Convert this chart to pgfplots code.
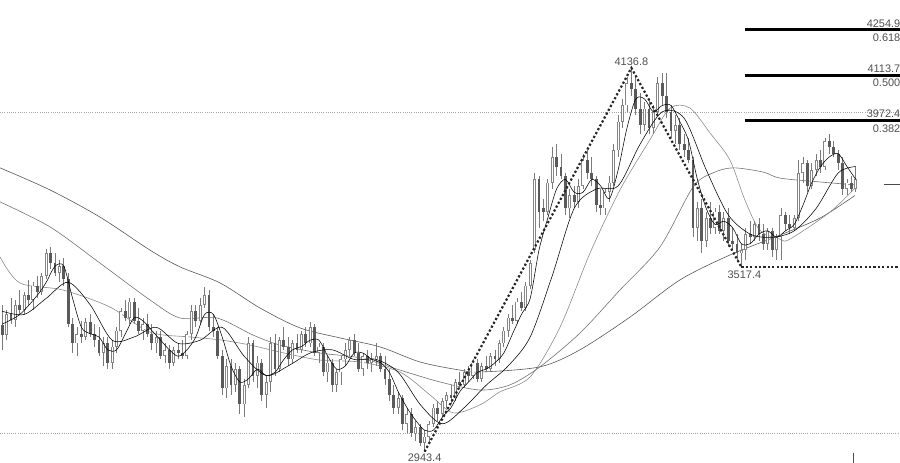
\documentclass[border=0pt]{standalone}
\usepackage{fontspec}
\setmainfont{Liberation Sans}
\usepackage{pgfplots}
\usepackage{pgfplotstable}
\pgfplotsset{compat=1.18}

\definecolor{wick}{HTML}{7A7A7A}
\definecolor{downc}{HTML}{5A5A5A}
\definecolor{upc}{HTML}{858585}
\definecolor{lbl}{HTML}{505050}

% daily candles: index, open, high, low, close
\pgfplotstableread{
i o h l c
0 3337 3400 3260 3306
1 3306 3384 3290 3370
2 3370 3420 3340 3353
3 3353 3415 3330 3400
4 3400 3446 3368 3384
5 3384 3440 3370 3430
6 3430 3477 3400 3415
7 3415 3470 3384 3460
8 3460 3490 3420 3440
9 3440 3500 3430 3490
10 3490 3575 3480 3560
11 3560 3580 3510 3530
12 3530 3560 3490 3500
13 3500 3540 3470 3520
14 3520 3545 3460 3480
15 3480 3500 3330 3340
16 3340 3360 3250 3280
17 3280 3330 3240 3310
18 3310 3350 3280 3300
19 3300 3360 3290 3345
20 3345 3370 3300 3310
21 3310 3340 3270 3290
22 3290 3330 3240 3250
23 3250 3300 3210 3280
24 3280 3300 3200 3220
25 3220 3290 3200 3270
26 3270 3330 3250 3320
27 3320 3390 3300 3380
28 3380 3415 3350 3360
29 3360 3420 3340 3410
30 3410 3420 3340 3350
31 3350 3390 3310 3320
32 3320 3360 3290 3340
33 3340 3370 3300 3310
34 3310 3340 3260 3280
35 3280 3320 3250 3300
36 3300 3320 3230 3240
37 3240 3280 3220 3260
38 3260 3275 3200 3220
39 3220 3270 3210 3260
40 3260 3280 3230 3250
41 3250 3290 3230 3240
42 3240 3320 3230 3310
43 3310 3400 3290 3380
44 3380 3400 3330 3350
45 3350 3420 3340 3400
46 3400 3455 3390 3430
47 3430 3445 3320 3330
48 3330 3370 3300 3320
49 3320 3330 3230 3240
50 3240 3260 3120 3140
51 3140 3230 3110 3210
52 3210 3230 3120 3150
53 3150 3220 3130 3200
54 3200 3210 3060 3090
55 3090 3170 3050 3150
56 3150 3300 3140 3280
57 3280 3290 3160 3180
58 3180 3240 3140 3220
59 3220 3230 3100 3120
60 3120 3180 3080 3160
61 3160 3300 3130 3280
62 3280 3310 3180 3200
63 3200 3300 3190 3290
64 3290 3330 3260 3270
65 3270 3300 3210 3230
66 3230 3290 3220 3280
67 3280 3310 3250 3260
68 3260 3320 3250 3310
69 3310 3330 3270 3280
70 3280 3345 3270 3330
71 3330 3340 3240 3250
72 3250 3280 3220 3270
73 3270 3280 3180 3190
74 3190 3240 3160 3220
75 3220 3230 3130 3150
76 3150 3200 3130 3190
77 3190 3240 3150 3230
78 3230 3280 3210 3260
79 3260 3300 3240 3290
80 3290 3310 3240 3250
81 3250 3280 3190 3200
82 3200 3250 3180 3240
83 3240 3260 3200 3220
84 3220 3250 3190 3230
85 3230 3280 3210 3240
86 3240 3250 3190 3200
87 3200 3240 3150 3170
88 3170 3200 3100 3120
89 3120 3150 3060 3080
90 3080 3130 3060 3110
91 3110 3120 3010 3030
92 3030 3080 3000 3060
93 3060 3080 2990 3000
94 3000 3040 2975 3020
95 3020 3030 2960 2970
96 2970 3010 2943.4 2990
97 2990 3040 2970 3030
98 3030 3090 3020 3080
99 3080 3100 3040 3060
100 3060 3110 3050 3100
101 3100 3130 3080 3120
102 3120 3150 3090 3110
103 3110 3170 3100 3160
104 3160 3190 3140 3150
105 3150 3200 3140 3190
106 3190 3210 3160 3180
107 3180 3230 3170 3220
108 3220 3230 3160 3170
109 3170 3220 3160 3210
110 3210 3240 3190 3200
111 3200 3250 3190 3240
112 3240 3260 3210 3230
113 3230 3290 3220 3280
114 3280 3330 3270 3320
115 3320 3370 3300 3360
116 3360 3400 3340 3350
117 3350 3420 3340 3410
118 3410 3440 3380 3390
119 3390 3470 3380 3460
120 3460 3540 3450 3530
121 3570 3810 3560 3790
122 3790 3800 3640 3690
123 3700 3730 3660 3690
124 3690 3790 3680 3780
125 3780 3890 3760 3860
126 3860 3900 3800 3830
127 3830 3870 3790 3800
128 3800 3810 3680 3700
129 3700 3760 3670 3740
130 3740 3770 3700 3720
131 3720 3790 3700 3770
132 3770 3870 3760 3850
133 3850 3880 3790 3810
134 3810 3860 3770 3790
135 3790 3800 3690 3710
136 3710 3760 3680 3700
137 3700 3760 3680 3750
138 3750 3800 3720 3780
139 3780 3900 3770 3880
140 3880 3990 3860 3970
141 3970 4040 3950 4020
142 4020 4110 4000 4090
143 4090 4136.8 4050 4070
144 4070 4110 3990 4010
145 4010 4060 3930 3960
146 3960 4030 3940 4010
147 4010 4040 3930 3950
148 3950 4020 3930 4000
149 4000 4110 3990 4090
150 4090 4120 4020 4050
151 4050 4120 3980 4000
152 4000 4020 3920 3940
153 3940 3990 3900 3960
154 3960 3980 3880 3900
155 3900 3930 3860 3880
156 3880 3920 3840 3850
157 3850 3860 3610 3640
158 3640 3720 3600 3700
159 3700 3730 3560 3600
160 3600 3690 3580 3670
161 3670 3720 3620 3640
162 3640 3700 3620 3690
163 3690 3710 3620 3630
164 3630 3690 3600 3670
165 3670 3700 3580 3600
166 3600 3640 3570 3590
167 3590 3620 3540 3560
168 3560 3590 3517.4 3570
169 3570 3640 3540 3620
170 3620 3660 3590 3610
171 3610 3660 3600 3650
172 3650 3670 3600 3620
173 3620 3650 3570 3590
174 3590 3640 3570 3630
175 3630 3640 3550 3570
176 3570 3620 3540 3610
177 3610 3700 3540 3680
178 3680 3690 3630 3650
179 3650 3680 3620 3640
180 3640 3680 3630 3670
181 3670 3850 3660 3810
182 3810 3860 3780 3840
183 3840 3850 3750 3770
184 3770 3840 3760 3820
185 3820 3870 3800 3850
186 3850 3880 3810 3830
187 3830 3920 3820 3910
188 3910 3930 3870 3890
189 3890 3910 3860 3870
190 3870 3880 3820 3840
191 3840 3860 3740 3760
192 3760 3790 3740 3780
193 3780 3800 3750 3760
194 3760 3830 3750 3790
}\candles

\begin{document}
\begin{tikzpicture}
\begin{axis}[
    at={(0,0)}, anchor=south west,
    scale only axis, width=900bp, height=463bp,
    xmin=-0.5, xmax=204.05, ymin=2908, ymax=4348,
    axis lines=none, ticks=none,
    clip mode=individual,
    candle/.style={draw=none, mark=none, forget plot},
]

% grid lines at 4000 and 3000
\addplot[gray!70, line width=0.6bp, dash pattern=on 1bp off 1.2bp] coordinates {(-0.5,4000) (204.05,4000)};
\addplot[gray!70, line width=0.6bp, dash pattern=on 1bp off 1.2bp] coordinates {(-0.5,3000) (204.05,3000)};

% long moving averages
\addplot[black!65, line width=0.6bp, smooth] coordinates {
    (-0.5,3826) (10.9,3757) (22.2,3673) (33.6,3570) (40.4,3518) (49.5,3468)
    (58.6,3390) (67.7,3328) (76.8,3297) (85.9,3269) (95,3222) (104,3197)
    (108.6,3191) (122.2,3207) (131.3,3260) (142.7,3362) (154,3477)
    (165.4,3555) (176.8,3617) (185.9,3670) (193.8,3740)
};
\addplot[black!55, line width=0.6bp, smooth] coordinates {
    (-0.5,3720) (10.9,3642) (22.2,3530) (33.6,3415) (40.4,3359) (48.8,3359)
    (57,3306) (63.1,3275) (72.2,3250) (81.3,3235) (90.4,3197) (99.5,3160)
    (108.6,3135) (115.4,3151) (122.2,3207) (131.3,3312) (140.4,3446)
    (149.5,3580) (157,3766) (161.5,3810) (166.1,3826) (172.9,3813)
    (176.8,3794) (185.9,3782) (193.8,3773)
};
\addplot[black!45, line width=0.6bp, smooth] coordinates {
    (-0.5,3549) (4,3468) (13.8,3446) (24.5,3393) (33.6,3315) (42.7,3300)
    (49.5,3291) (56.3,3275) (63.1,3253) (72.2,3228) (81.3,3222) (90.4,3191)
    (97.2,3120) (102.5,3064) (108.6,3089) (113.1,3129) (120,3176)
    (126.8,3331) (133.6,3561) (140.4,3757) (147.2,3913) (151.8,4012)
    (156.3,4012) (160.9,3934) (165.4,3850) (168.8,3726) (172.2,3632)
    (176.8,3604) (179,3604) (188.1,3688) (193.8,3763)
};

% wicks
\addplot[candle,
    error bars/.cd, y dir=both, y explicit, error mark=none,
    error bar style={draw=wick, line width=0.8bp}]
    table[x=i, y=c, y error plus expr=\thisrow{h}-\thisrow{c},
          y error minus expr=\thisrow{c}-\thisrow{l}] {\candles};
% falling bodies
\addplot[candle,
    restrict expr to domain={\thisrow{c}-\thisrow{o}}{-100000:-0.01},
    error bars/.cd, y dir=minus, y explicit, error mark=none,
    error bar style={draw=downc, line width=2.8bp}]
    table[x=i, y=o, y error minus expr=\thisrow{o}-\thisrow{c}] {\candles};
% rising bodies (hollow)
\addplot[candle,
    restrict expr to domain={\thisrow{c}-\thisrow{o}}{0:100000},
    error bars/.cd, y dir=plus, y explicit, error mark=none,
    error bar style={draw=upc, line width=3bp}]
    table[x=i, y=o, y error plus expr=\thisrow{c}-\thisrow{o}] {\candles};
\addplot[candle,
    restrict expr to domain={\thisrow{c}-\thisrow{o}}{0:100000},
    error bars/.cd, y dir=plus, y explicit, error mark=none,
    error bar style={draw=white, line width=1.2bp, shorten <=0.8bp, shorten >=0.8bp}]
    table[x=i, y=o, y error plus expr=\thisrow{c}-\thisrow{o}] {\candles};

% short moving averages
\addplot[black, line width=0.55bp, smooth] coordinates {
    (0,3340) (4,3370) (8,3430) (10,3470) (12,3520) (14,3520) (16,3420)
    (18,3330) (20,3310) (22,3300) (24,3260) (26,3260) (28,3310) (30,3360)
    (32,3350) (34,3320) (36,3290) (38,3260) (40,3240) (42,3260) (44,3300)
    (46,3370) (48,3370) (50,3300) (52,3210) (54,3160) (56,3170) (58,3200)
    (60,3180) (62,3190) (64,3230) (66,3260) (68,3270) (70,3290) (72,3290)
    (74,3240) (76,3200) (78,3210) (80,3250) (82,3250) (84,3230) (86,3220)
    (88,3190) (90,3130) (92,3080) (94,3040) (96,3010) (98,3010) (100,3050)
    (102,3080) (104,3130) (106,3160) (108,3190) (110,3200) (112,3220)
    (114,3250) (116,3310) (118,3370) (120,3420) (122,3570) (124,3670)
    (126,3760) (128,3790) (130,3750) (132,3750) (134,3790) (136,3770)
    (138,3730) (140,3820) (142,3950) (144,4040) (146,4040) (148,4000)
    (150,4020) (152,4020) (154,3970) (156,3910) (158,3790) (160,3700)
    (162,3650) (164,3660) (166,3640) (168,3590) (170,3590) (172,3620)
    (174,3630) (176,3610) (178,3630) (180,3650) (182,3710) (184,3780)
    (186,3830) (188,3860) (190,3870) (192,3830) (194,3790)
};
\addplot[black, line width=0.55bp, smooth] coordinates {
    (0,3380) (5,3370) (10,3420) (15,3470) (20,3400) (25,3290) (30,3300)
    (35,3330) (40,3280) (45,3290) (50,3330) (55,3240) (60,3180) (65,3210)
    (70,3250) (75,3260) (80,3230) (85,3230) (90,3190) (95,3090) (100,3030)
    (105,3080) (110,3150) (115,3210) (120,3300) (125,3490) (130,3700)
    (135,3760) (140,3770) (145,3900) (150,4000) (155,3980) (160,3820)
    (165,3680) (170,3620) (175,3610) (180,3630) (185,3700) (190,3810)
    (194,3830)
};

% swing lines
\addplot[black!85, line width=2.2bp, dash pattern=on 2.2bp off 2.2bp] coordinates {
    (96,2943.4) (143,4136.8) (168,3517.4)
};
\addplot[black!85, line width=2.2bp, dash pattern=on 2.2bp off 2.2bp] coordinates {
    (168,3517.4) (204.05,3517.4)
};

% projection levels
\addplot[black, line width=3bp] coordinates {(168.8,4254.9) (204.05,4254.9)};
\addplot[black, line width=3bp] coordinates {(168.8,4113.7) (204.05,4113.7)};
\addplot[black, line width=3bp] coordinates {(168.8,3972.4) (204.05,3972.4)};

% markers at the right and bottom
\addplot[black!70, line width=0.8bp] coordinates {(200.4,3773) (204.05,3773)};
\addplot[black!70, line width=0.8bp] coordinates {(193.4,2940) (193.4,2908)};

\tikzset{lab/.style={font=\fontsize{11}{11}\selectfont, text=lbl, inner sep=0.5bp}}
\node[lab, anchor=south] at (axis cs:143,4136.8) [yshift=2bp] {4136.8};
\node[lab, anchor=north] at (axis cs:96,2943.4) [yshift=-2bp] {2943.4};
\node[lab, anchor=north] at (axis cs:168,3517.4) [xshift=3bp, yshift=-3bp] {3517.4};

\node[lab, anchor=south east] at (axis cs:204.05,4254.9) [xshift=1bp, yshift=2bp] {4254.9};
\node[lab, anchor=north east] at (axis cs:204.05,4254.9) [xshift=1bp, yshift=-3bp] {0.618};
\node[lab, anchor=south east] at (axis cs:204.05,4113.7) [xshift=1bp, yshift=2bp] {4113.7};
\node[lab, anchor=north east] at (axis cs:204.05,4113.7) [xshift=1bp, yshift=-3bp] {0.500};
\node[lab, anchor=south east] at (axis cs:204.05,3972.4) [xshift=1bp, yshift=2bp] {3972.4};
\node[lab, anchor=north east] at (axis cs:204.05,3972.4) [xshift=1bp, yshift=-3bp] {0.382};
\end{axis}
\pgfresetboundingbox
\path[use as bounding box] (0,0) rectangle (900bp,463bp);
\end{tikzpicture}
\end{document}
